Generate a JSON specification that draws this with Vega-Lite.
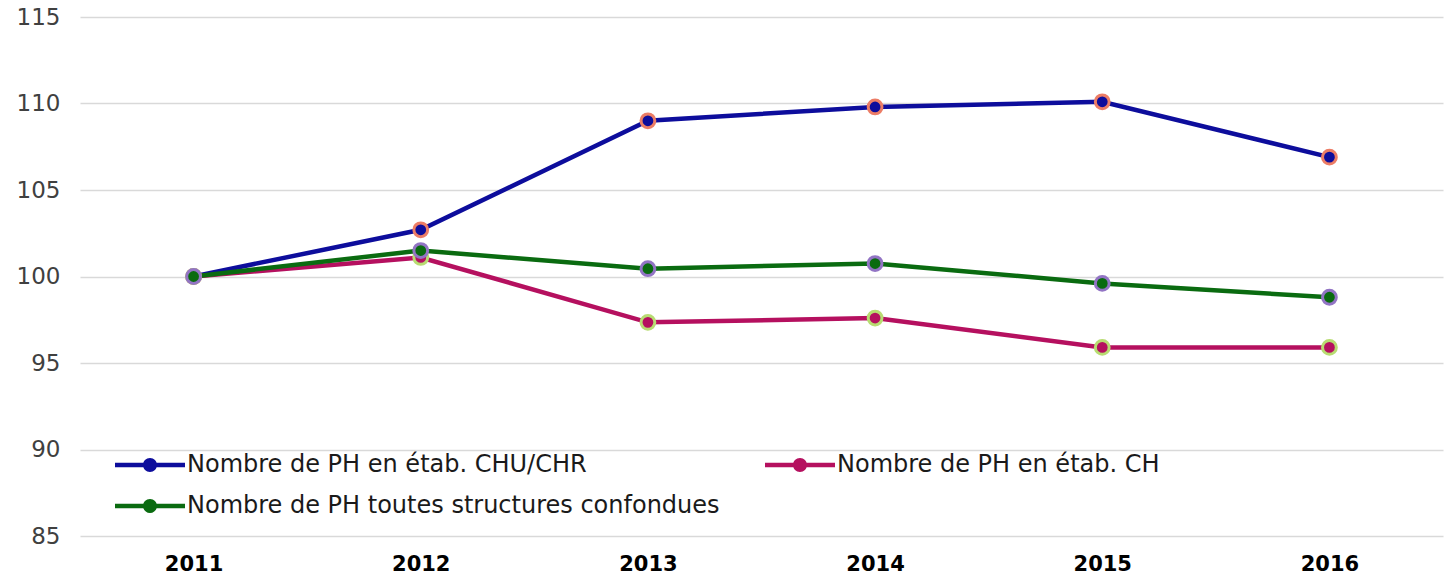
{
  "$schema": "https://vega.github.io/schema/vega-lite/v6.json",
  "autosize": {"type": "none"},
  "width": 1363,
  "height": 519,
  "padding": {"left": 80, "top": 17, "right": 5, "bottom": 40},
  "background": "white",
  "config": {
    "view": {"stroke": null},
    "font": "DejaVu Sans"
  },
  "data": {
    "values": [
      {"year": "2011", "series": "Nombre de PH en  étab. CHU/CHR", "value": 100},
      {"year": "2012", "series": "Nombre de PH en  étab. CHU/CHR", "value": 102.7},
      {"year": "2013", "series": "Nombre de PH en  étab. CHU/CHR", "value": 109.0},
      {"year": "2014", "series": "Nombre de PH en  étab. CHU/CHR", "value": 109.8},
      {"year": "2015", "series": "Nombre de PH en  étab. CHU/CHR", "value": 110.1},
      {"year": "2016", "series": "Nombre de PH en  étab. CHU/CHR", "value": 106.9},
      {"year": "2011", "series": "Nombre de PH en  étab. CH", "value": 100},
      {"year": "2012", "series": "Nombre de PH en  étab. CH", "value": 101.1},
      {"year": "2013", "series": "Nombre de PH en  étab. CH", "value": 97.35},
      {"year": "2014", "series": "Nombre de PH en  étab. CH", "value": 97.6},
      {"year": "2015", "series": "Nombre de PH en  étab. CH", "value": 95.9},
      {"year": "2016", "series": "Nombre de PH en  étab. CH", "value": 95.9},
      {"year": "2011", "series": "Nombre de PH toutes structures confondues", "value": 100},
      {"year": "2012", "series": "Nombre de PH toutes structures confondues", "value": 101.5},
      {"year": "2013", "series": "Nombre de PH toutes structures confondues", "value": 100.45},
      {"year": "2014", "series": "Nombre de PH toutes structures confondues", "value": 100.75},
      {"year": "2015", "series": "Nombre de PH toutes structures confondues", "value": 99.6},
      {"year": "2016", "series": "Nombre de PH toutes structures confondues", "value": 98.8}
    ]
  },
  "encoding": {
    "x": {
      "field": "year", "type": "ordinal",
      "scale": {"type": "point", "padding": 0.5},
      "axis": {
        "title": null, "labelAngle": 0, "domain": false, "ticks": false,
        "labelFontSize": 21, "labelFontWeight": "bold", "labelColor": "#000000",
        "labelPadding": 17, "grid": false
      }
    },
    "y": {
      "field": "value", "type": "quantitative",
      "scale": {"domain": [85, 115], "nice": false, "zero": false},
      "axis": {
        "title": null, "values": [85, 90, 95, 100, 105, 110, 115],
        "domain": false, "ticks": false, "labelFontSize": 23, "labelColor": "#404040",
        "labelPadding": 20, "gridColor": "#d9d9d9", "gridWidth": 1.5
      }
    },
    "color": {
      "field": "series", "type": "nominal",
      "scale": {
        "domain": ["Nombre de PH en  étab. CHU/CHR", "Nombre de PH en  étab. CH", "Nombre de PH toutes structures confondues"],
        "range": ["#0d0d9c", "#b5105f", "#0a6b10"]
      },
      "legend": {
        "title": null, "orient": "none", "legendX": 33, "legendY": 436,
        "direction": "horizontal", "columns": 2, "columnPadding": 43, "rowPadding": 17,
        "labelFontSize": 24, "labelColor": "#1a1a1a", "labelOffset": 50, "labelLimit": 800,
        "symbolType": "M-1,-0.22H6V0.22H-1Z M1.8,0 A0.7,0.7 0 1,1 3.2,0 A0.7,0.7 0 1,1 1.8,0 Z",
        "symbolSize": 400,
        "encode": {
          "symbols": {
            "update": {
              "fill": {"scale": "color", "field": "value"},
              "stroke": {"value": "transparent"},
              "strokeWidth": {"value": 0},
              "opacity": {"value": 1}
            }
          }
        }
      }
    }
  },
  "layer": [
    {"mark": {"type": "line", "strokeWidth": 4.5}},
    {
      "mark": {"type": "point", "filled": true, "size": 190, "opacity": 1, "strokeWidth": 3},
      "encoding": {
        "stroke": {
          "field": "series", "type": "nominal",
          "scale": {
            "domain": ["Nombre de PH en  étab. CHU/CHR", "Nombre de PH en  étab. CH", "Nombre de PH toutes structures confondues"],
            "range": ["#ec7d66", "#b8dc72", "#9274c4"]
          },
          "legend": null
        }
      }
    }
  ]
}
